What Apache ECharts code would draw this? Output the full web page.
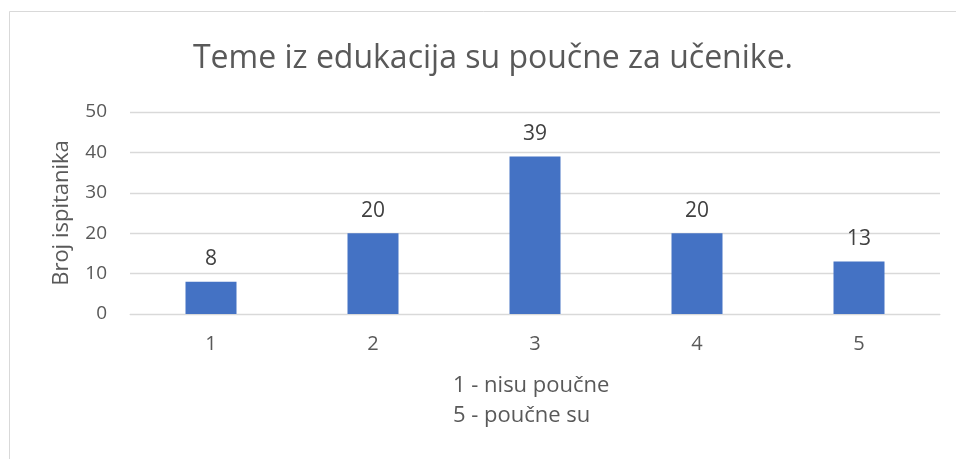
<!DOCTYPE html>
<html><head><meta charset="utf-8">
<script src="https://cdn.jsdelivr.net/npm/echarts@6/dist/echarts.min.js"></script>
<style>html,body{margin:0;padding:0;background:#fff}#c{width:956px;height:459px}</style>
</head><body><div id="c"></div>
<script>
const categories = ['1','2','3','4','5'];
const values = [8, 20, 39, 20, 13];
const titleText = 'Teme iz edukacija su poučne za učenike.';
const yName = 'Broj ispitanika';
const xNote = ['1 - nisu poučne', '5 - poučne su'];
const FONT = 'Open Sans';
const chart = echarts.init(document.getElementById('c'), null, {renderer:'canvas'});
chart.setOption({
  animation:false,
  backgroundColor:'#fff',
  title:{text:titleText,left:488,textAlign:'center',top:38,textStyle:{fontFamily:FONT,fontSize:32,fontWeight:'normal',color:'#595959'}},
  graphic:[
    {type:'rect',shape:{x:9.5,y:11.5,width:960,height:460},style:{fill:'none',stroke:'#d9d9d9',lineWidth:1}},
    {type:'text',left:453,top:371,style:{text:xNote.join('\n'),fontFamily:FONT,fontSize:22,lineHeight:30,fill:'#595959'}}
  ],
  grid:{left:130,right:16,top:112,bottom:145},
  xAxis:{type:'category',data:categories,axisLine:{show:true,lineStyle:{color:'#d9d9d9'}},axisTick:{show:false},
    axisLabel:{fontFamily:FONT,fontSize:20,color:'#595959',margin:20}},
  yAxis:{type:'value',min:0,max:50,interval:10,name:yName,nameLocation:'middle',nameGap:57,nameRotate:90,
    nameTextStyle:{fontFamily:FONT,fontSize:22,color:'#595959'},
    axisLine:{show:false},axisTick:{show:false},
    axisLabel:{fontFamily:FONT,fontSize:19,color:'#595959',margin:23},
    splitLine:{lineStyle:{color:'#d9d9d9',width:1.3}}},
  series:[{type:'bar',data:values,barWidth:51,itemStyle:{color:'#4472C4'},
    label:{show:true,position:'top',distance:12,fontFamily:FONT,fontSize:21,color:'#404040'}}]
});
</script></body></html>
